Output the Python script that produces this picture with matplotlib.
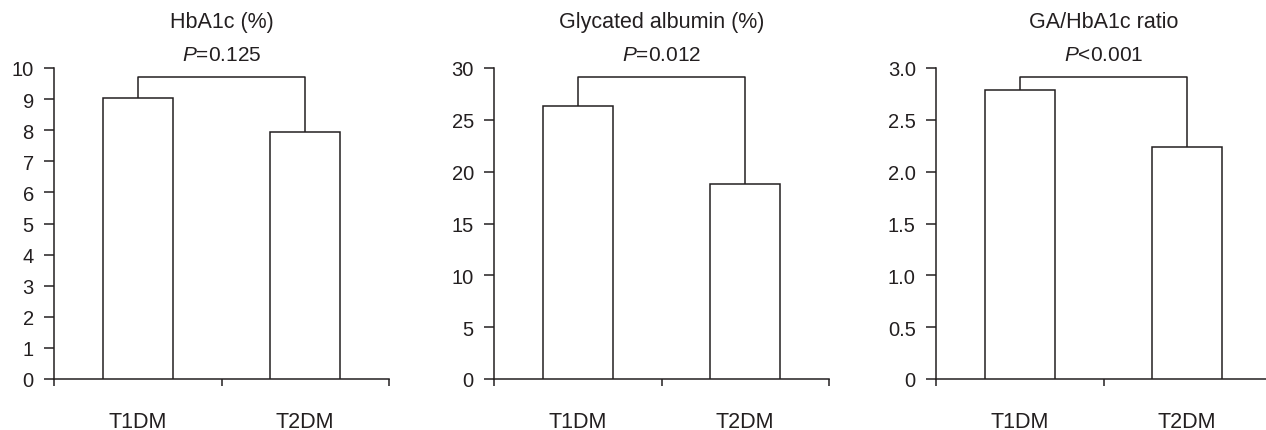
import matplotlib.pyplot as plt

groups = ["T1DM", "T2DM"]
titles = ["HbA1c (%)", "Glycated albumin (%)", "GA/HbA1c ratio"]
p_texts = ["$\\it{P}$=0.125", "$\\it{P}$=0.012", "$\\it{P}$<0.001"]
hba1c = [9.05, 7.95]
glycated_albumin = [26.3, 18.8]
ga_ratio = [2.79, 2.235]
bracket_levels = [9.72, 29.1, 2.915]
y_max = [10, 30, 3.0]
y_ticks = [
    [0, 1, 2, 3, 4, 5, 6, 7, 8, 9, 10],
    [0, 5, 10, 15, 20, 25, 30],
    [0, 0.5, 1.0, 1.5, 2.0, 2.5, 3.0],
]
y_ticklabels = [
    ["0", "1", "2", "3", "4", "5", "6", "7", "8", "9", "10"],
    ["0", "5", "10", "15", "20", "25", "30"],
    ["0", "0.5", "1.0", "1.5", "2.0", "2.5", "3.0"],
]
series = [hba1c, glycated_albumin, ga_ratio]

plt.rcParams["font.family"] = ["Liberation Sans", "DejaVu Sans"]
plt.rcParams["mathtext.fontset"] = "custom"
plt.rcParams["mathtext.it"] = "Liberation Sans:italic"
plt.rcParams["mathtext.rm"] = "Liberation Sans"
col = "#231f20"
lw = 1.1

fig = plt.figure(figsize=(12.66, 4.31), dpi=100)
lefts = [54 / 1266, 494 / 1266, 936 / 1266]

for i in range(3):
    ax = fig.add_axes([lefts[i], 51 / 431, 335 / 1266, 311 / 431])
    vals = series[i]
    ax.bar(range(2), vals, width=0.42, facecolor="white", edgecolor=col, linewidth=lw, zorder=3)
    # bracket between the bars
    b = bracket_levels[i]
    ax.plot([0, 0, 1, 1], [vals[0], b, b, vals[1]], color=col, lw=lw, zorder=2)

    ax.set_xlim(-0.5, 1.5)
    ax.set_ylim(0, y_max[i])
    ax.spines["top"].set_visible(False)
    ax.spines["right"].set_visible(False)
    for s in ["left", "bottom"]:
        ax.spines[s].set_color(col)
        ax.spines[s].set_linewidth(lw)

    ax.set_yticks(y_ticks[i])
    ax.set_yticklabels(y_ticklabels[i])
    ax.tick_params(axis="y", length=7.5, width=lw, color=col, labelsize=14.5, labelcolor=col, pad=7)

    ax.set_xticks([-0.5, 0.5, 1.5])
    ax.set_xticklabels(["", "", ""])
    ax.set_xticks([0, 1], minor=True)
    ax.set_xticklabels(groups, minor=True)
    ax.tick_params(axis="x", which="major", length=5, width=lw, color=col)
    ax.tick_params(axis="x", which="minor", length=0, labelsize=15.5, labelcolor=col, pad=23)

    ax.text(0.5, 1.151, titles[i], transform=ax.transAxes, ha="center", va="center",
            fontsize=15.5, color=col)
    ax.text(0.5, 1.045, p_texts[i], transform=ax.transAxes, ha="center", va="center",
            fontsize=15, color=col)

plt.savefig("out.png", dpi=100)
